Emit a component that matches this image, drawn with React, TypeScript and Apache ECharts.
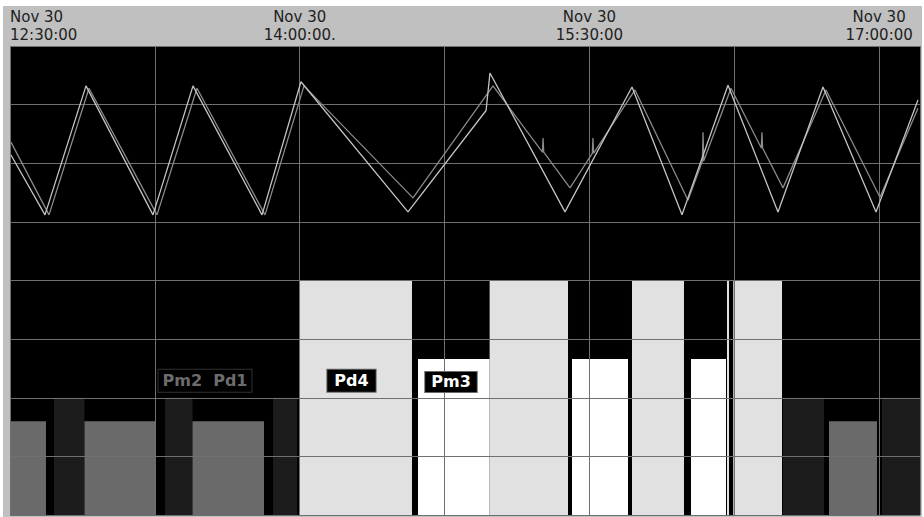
import React, { useEffect, useRef } from 'react';
import * as echarts from 'echarts';

// x = minutes after Nov 30 12:30:00, y = value on a 0..8 scale
const timeTickMinutes = [0, 90, 180, 270];
const timeLabels = ['Nov 30\n12:30:00', 'Nov 30\n14:00:00.', 'Nov 30\n15:30:00', 'Nov 30\n17:00:00'];

// state timeline (bottom bars)
const segStart = [0, 13.67, 23.14, 48.15, 56.7, 81.7, 90.09, 126.75, 149.0, 174.59, 193.23, 211.56, 222.74, 224.67, 240.14, 254.43, 270.89];
const segEnd = [11.18, 23.14, 45.36, 56.7, 78.91, 89.16, 124.88, 149.0, 173.35, 191.99, 209.38, 222.43, 223.36, 239.83, 252.87, 269.34, 282.7];
const segState = ['med', 'dark', 'med', 'dark', 'med', 'dark', 'light', 'white', 'light', 'white', 'light', 'white', 'light', 'light', 'dark', 'med', 'dark'];
const stateValues: Record<string, number> = { med: 1.6, dark: 2.0, light: 4.0, white: 2.66 };

// two traces (upper band)
const traceA = [
  [0.3, 6.14], [10.87, 5.12], [23.61, 7.32], [44.42, 5.12], [56.85, 7.32], [78.29, 5.12],
  [90.4, 7.39], [123.64, 5.17], [147.9, 6.9], [149.1, 7.54], [172.41, 5.17], [193.23, 7.3],
  [208.76, 5.12], [223.05, 7.33], [238.58, 5.17], [252.56, 7.3], [269.03, 5.17], [282.07, 7.08],
];
const traceB = [
  [0.3, 6.36], [12.12, 5.12], [24.54, 7.28], [45.67, 5.12], [58.09, 7.28], [79.22, 5.12],
  [91.33, 7.32], [125.19, 5.41], [150.05, 7.32], [165.4, 6.19], [165.6, 6.43], [165.8, 6.19],
  [173.97, 5.58], [180.9, 6.17], [181.1, 6.43], [181.3, 6.17], [194.16, 7.25], [210.62, 5.37],
  [215.1, 6.04], [215.3, 6.53], [215.5, 6.04], [223.98, 7.28], [233.4, 6.26], [233.6, 6.53],
  [233.8, 6.26], [240.14, 5.58], [253.5, 7.25], [270.27, 5.42], [282.07, 6.94],
];

// annotation boxes
const noteNames = ['Pm2\u00a0\u00a0Pd1', 'Pd4', 'Pm3'];
const noteX = [60.58, 106.09, 137.0];
const noteY = [2.29, 2.29, 2.27];

const stateColors: Record<string, string> = { med: '#6a6a6a', dark: '#1c1c1c', light: '#e1e1e1', white: '#ffffff' };
const noteStyles = [
  { color: '#6c6c6c', borderColor: '#303030', padding: [3, 4] },
  { color: '#ffffff', borderColor: '#6a6a6a', padding: [3, 7] },
  { color: '#ffffff', borderColor: '#6a6a6a', padding: [2, 6] },
];

export default function App() {
  const ref = useRef<HTMLDivElement>(null);
  useEffect(() => {
    document.body.style.margin = '0';
    if (!ref.current) return;
    const chart = echarts.init(ref.current, undefined, { renderer: 'svg' });
    const segData = segStart.map((s, i) => ({
      value: [s, segEnd[i], stateValues[segState[i]]],
      itemStyle: { color: stateColors[segState[i]] },
    }));
    const noteData = noteNames.map((n, i) => ({
      name: n,
      value: [noteX[i], noteY[i]],
      label: {
        color: noteStyles[i].color,
        borderColor: noteStyles[i].borderColor,
        padding: noteStyles[i].padding,
      },
    }));
    chart.setOption({
      animation: false,
      backgroundColor: 'transparent',
      grid: { left: 10, right: 4, top: 46, bottom: 2, show: true, backgroundColor: '#000', borderWidth: 0 },
      xAxis: {
        type: 'value', position: 'top', min: 0, max: 282.7, interval: 45, z: 5,
        axisLine: { show: false }, axisTick: { show: false },
        splitLine: { show: true, lineStyle: { color: '#707070', width: 1 } },
        axisLabel: {
          margin: 2, color: '#1e1e1e', fontFamily: 'DejaVu Sans', fontSize: 15, lineHeight: 18,
          alignMinLabel: 'left',
          formatter: (v: number) => {
            const i = timeTickMinutes.indexOf(Math.round(v));
            return i >= 0 ? timeLabels[i] : '';
          },
        },
      },
      yAxis: {
        type: 'value', min: 0, max: 8, interval: 1, z: 5,
        axisLine: { show: false }, axisTick: { show: false }, axisLabel: { show: false },
        splitLine: { show: true, lineStyle: { color: '#707070', width: 1 } },
      },
      series: [
        {
          type: 'custom', z: 2, clip: true,
          encode: { x: [0, 1], y: 2 },
          data: segData,
          renderItem: (params: any, api: any) => {
            const s = api.coord([api.value(0), api.value(2)]);
            const e = api.coord([api.value(1), 0]);
            return {
              type: 'rect',
              shape: { x: s[0], y: s[1], width: e[0] - s[0], height: e[1] - s[1] },
              style: { fill: api.visual('color') },
            };
          },
        },
        {
          type: 'line', z: 6, data: traceB, showSymbol: false, symbol: 'none',
          lineStyle: { color: '#8a8a8a', width: 1.3 },
        },
        {
          type: 'line', z: 7, data: traceA, showSymbol: false, symbol: 'none',
          lineStyle: { color: '#c4c4c4', width: 1.3 },
        },
        {
          type: 'scatter', z: 8, symbol: 'circle', symbolSize: 2,
          itemStyle: { color: 'rgba(0,0,0,0)', opacity: 1 },
          data: noteData,
          label: {
            show: true, position: 'inside', formatter: '{b}',
            fontFamily: 'DejaVu Sans', fontWeight: 'bold', fontSize: 16, lineHeight: 16,
            backgroundColor: '#000', borderWidth: 1,
          },
        },
      ],
    });
    return () => chart.dispose();
  }, []);
  return (
    <div style={{ position: 'relative', width: 924, height: 517, background: '#fff' }}>
      <div style={{ position: 'absolute', left: 3, top: 6, width: 919, height: 511, background: '#c0c0c0' }} />
      <div ref={ref} style={{ position: 'absolute', left: 0, top: 0, width: 924, height: 517 }} />
    </div>
  );
}
